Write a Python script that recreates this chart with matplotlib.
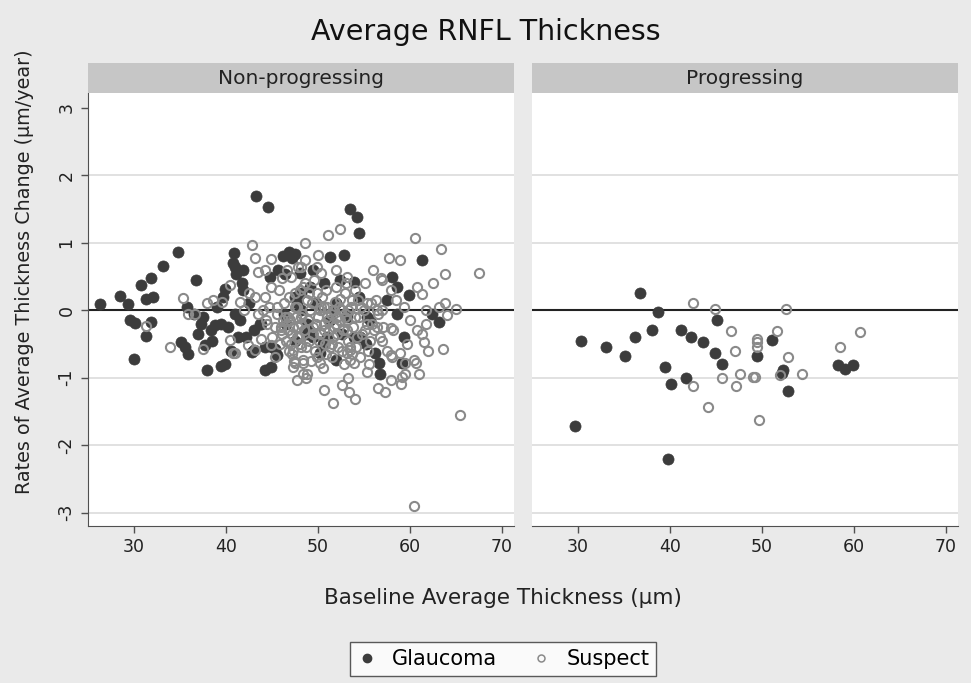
import numpy as np
import matplotlib
matplotlib.use("Agg")
import matplotlib.pyplot as plt
from matplotlib.lines import Line2D

plt.rcParams['font.family'] = ['DejaVu Sans']
plt.rcParams['axes.unicode_minus'] = False

# panel names, ticks
panels = ["Non-progressing", "Progressing"]
xticks = [30, 40, 50, 60, 70]
yticks = [-3, -2, -1, 0, 1, 2, 3]

# Non-progressing, glaucoma (baseline thickness, rate)
glaucoma_np = np.array([
    (43.3, 1.69), (44.6, 1.53), (26.3, 0.09), (28.5, 0.21), (29.4, 0.09), (29.6, -0.15),
    (30.1, -0.19), (31.3, 0.17), (32.1, 0.20), (30.8, 0.37), (31.8, 0.48), (33.2, 0.66),
    (34.75, 0.86), (31.8, -0.18), (31.3, -0.38), (30.0, -0.73), (36.7, 0.44), (35.1, -0.47),
    (35.5, -0.54), (35.9, -0.65), (35.8, 0.05), (37.0, -0.35), (37.9, -0.88), (39.5, -0.83),
    (37.7, -0.52), (38.4, -0.30), (37.5, -0.10), (39.7, 0.20), (39.9, 0.32), (40.9, 0.85),
    (41.0, 0.64), (41.1, 0.54), (41.7, 0.40), (41.9, 0.30), (39.5, -0.20), (38.8, -0.22),
    (41.0, -0.05), (41.3, -0.40), (42.2, -0.40), (42.8, -0.62), (43.85, -0.20), (44.2, -0.89),
    (44.9, -0.84), (45.3, -0.57), (46.8, 0.86), (47.5, 0.84), (46.4, 0.54), (44.8, 0.49),
    (47.5, 0.20), (47.2, 0.78), (53.5, 1.50), (54.2, 1.38), (54.5, 1.14), (51.3, 0.79),
    (52.8, 0.82), (52.4, 0.44), (53.9, 0.42), (52.0, -0.74), (50.2, -0.64), (46.25, -0.05),
    (47.7, 0.10), (48.8, -0.20), (49.5, -0.40), (45.0, -0.54), (45.5, -0.67), (43.0, -0.59),
    (43.7, -0.20), (48.1, 0.25), (48.8, -0.35), (51.0, -0.40), (51.7, 0.0), (53.1, -0.10),
    (61.3, 0.74), (58.0, 0.49), (58.6, 0.35), (59.85, 0.22), (57.5, 0.15), (58.6, -0.05),
    (62.4, -0.05), (63.2, -0.17), (59.3, -0.40), (56.2, -0.64), (56.6, -0.79), (56.7, -0.94),
    (59.1, -0.78), (54.6, -0.40), (55.3, -0.10), (49.15, 0.35), (40.2, -0.25), (39.9, -0.80),
    (46.5, -0.20), (47.5, -0.45), (48.2, 0.00), (49.0, -0.30), (49.8, 0.10), (50.5, -0.50),
    (51.3, -0.15), (52.0, 0.10), (52.6, -0.35), (53.2, -0.05), (53.9, -0.40), (54.4, 0.20),
    (55.2, -0.50), (55.7, -0.15), (45.6, 0.60), (46.2, 0.80), (48.0, 0.55), (49.5, 0.60),
    (50.6, 0.40), (44.2, -0.55), (43.0, -0.30), (42.5, 0.10), (41.5, -0.15), (40.5, -0.60),
    (39.0, 0.05), (38.5, -0.45), (37.3, -0.20), (36.5, -0.05), (41.8, 0.60), (40.8, 0.70),
])

# Non-progressing, suspect
suspect_np = np.array([
    (42.8, 0.96), (43.1, 0.77), (44.9, 0.76), (43.5, 0.57), (44.2, 0.59), (48.6, 1.00),
    (35.3, 0.18), (35.9, -0.05), (36.6, -0.06), (37.9, 0.10), (38.6, 0.15), (31.3, -0.23),
    (33.9, -0.55), (37.5, -0.58), (40.4, 0.37), (41.0, -0.63), (40.4, -0.44), (42.0, 0.0),
    (43.1, 0.20), (44.2, 0.20), (44.9, 0.35), (42.4, -0.52), (43.85, -0.42), (43.1, -0.59),
    (44.9, -0.52), (45.3, -0.69), (47.5, -0.79), (48.4, -0.94), (46.0, -0.25), (46.75, -0.10),
    (47.5, 0.05), (48.2, -0.10), (47.1, 0.49), (47.85, 0.64), (48.6, 0.74), (51.1, 1.11),
    (52.4, 1.21), (50.05, 0.82), (51.9, 0.59), (53.1, 0.49), (49.9, 0.64), (48.1, 0.64),
    (46.6, 0.59), (46.1, 0.47), (48.4, 0.35), (49.9, 0.25), (52.4, 0.17), (47.3, -0.25),
    (48.1, -0.54), (47.3, -0.59), (48.4, -0.79), (48.8, -0.94), (50.2, -0.79), (53.1, -0.64),
    (53.9, -0.79), (53.3, -1.01), (40.8, -0.64), (46.1, -0.35), (46.4, -0.10), (51.0, -0.10),
    (51.7, -0.25), (52.4, -0.15), (50.2, 0.0), (44.4, -0.15), (45.5, 0.05), (60.5, 1.07),
    (63.4, 0.90), (63.8, 0.53), (57.7, 0.77), (58.9, 0.75), (56.0, 0.59), (56.8, 0.47),
    (55.1, 0.40), (61.3, 0.24), (63.1, 0.05), (63.8, 0.10), (61.7, -0.20), (61.5, -0.47),
    (63.6, -0.57), (60.4, -0.74), (57.9, -0.67), (59.5, -0.79), (55.3, -0.91), (53.5, -0.74),
    (53.5, -0.59), (51.3, -0.54), (57.9, -0.27), (60.75, -0.30), (56.4, -0.25), (55.3, 0.10),
    (56.4, 0.0), (53.3, 0.0), (52.05, -0.10), (50.6, 0.05), (48.8, 0.15), (47.7, 0.05),
    (47.7, -0.40), (48.4, -0.74), (47.3, -0.84), (67.5, 0.55), (65.0, 0.01), (64.0, -0.07),
    (60.6, -0.79), (59.5, -0.94), (57.9, -1.04), (57.3, -1.21), (59.1, -0.99), (58.9, -0.64),
    (58.0, -0.69), (65.4, -1.56), (56.9, 0.44), (57.9, 0.30), (59.3, 0.05), (61.7, 0.0),
    (57.1, -0.25), (61.3, -0.35), (60.4, -2.91), (50.6, -1.19), (51.65, -1.38), (53.4, -1.22),
    (54.0, -1.31), (52.6, -1.11), (48.7, -1.01), (47.7, -1.04), (39.6, 0.12), (41.5, 0.12),
    (42.5, 0.25), (46.0, -0.30), (46.5, -0.45), (47.0, -0.15), (47.2, -0.35), (47.8, -0.25),
    (48.0, -0.50), (48.3, -0.05), (48.5, -0.30), (48.9, -0.15), (49.0, -0.45), (49.3, 0.10),
    (49.5, -0.25), (49.7, -0.60), (50.0, -0.10), (50.2, -0.35), (50.4, 0.20), (50.6, -0.20),
    (50.8, -0.50), (51.0, 0.05), (51.2, -0.30), (51.4, -0.05), (51.6, -0.40), (51.8, 0.12),
    (52.0, -0.20), (52.2, -0.55), (52.5, 0.00), (52.7, -0.30), (52.9, 0.25), (53.1, -0.15),
    (53.3, -0.45), (53.6, 0.05), (53.8, -0.25), (54.1, -0.55), (54.3, 0.15), (54.5, -0.10),
    (54.8, -0.35), (55.0, 0.00), (55.3, -0.20), (55.6, -0.45), (55.8, 0.10), (56.1, -0.30),
    (56.5, -0.05), (45.5, -0.05), (45.8, 0.30), (46.3, 0.10), (47.5, 0.25), (48.6, 0.40),
    (49.6, 0.45), (50.3, 0.55), (44.5, -0.20), (44.0, 0.00), (43.5, -0.05), (45.0, -0.40),
    (46.8, -0.60), (47.4, -0.75), (49.2, -0.75), (50.5, -0.85), (51.5, -0.70), (52.8, -0.80),
    (54.6, -0.70), (55.5, -0.80), (57.0, -0.45), (56.9, 0.00), (57.5, -0.60), (58.2, -0.30),
    (58.5, 0.15), (59.7, -0.50), (60.0, -0.15), (60.8, 0.35), (62.0, -0.60), (62.5, 0.40),
    (61.0, -0.95), (59.0, -1.10), (56.5, -1.15),
    (46.2, -0.15), (46.7, -0.30), (47.1, -0.50), (47.6, -0.10), (47.9, -0.40), (48.2, -0.20),
    (48.7, -0.55), (49.1, 0.00), (49.4, -0.35), (49.8, -0.20), (50.1, -0.45), (50.3, 0.05),
    (50.7, -0.30), (50.9, -0.65), (51.1, -0.15), (51.5, -0.50), (51.7, 0.00), (52.1, -0.35),
    (52.3, 0.05), (52.6, -0.60), (52.9, -0.10), (53.2, -0.30), (53.5, -0.55), (53.7, 0.15),
    (54.0, -0.10), (54.2, -0.40), (54.7, 0.05), (55.1, -0.30), (55.4, -0.60), (55.9, -0.20),
    (56.3, 0.15), (56.7, -0.40), (46.9, 0.20), (48.0, 0.30), (49.0, 0.25), (50.9, 0.30),
    (51.9, 0.35), (53.0, 0.40), (54.0, 0.30), (45.3, -0.25), (44.7, 0.05), (45.9, -0.50),
    (47.2, -0.65), (49.9, -0.70), (53.7, -0.65),
])

# Progressing, glaucoma
glaucoma_p = np.array([
    (36.75, 0.26), (38.7, -0.02), (30.3, -0.46), (33.0, -0.54), (35.1, -0.68), (36.2, -0.40),
    (38.0, -0.29), (41.2, -0.30), (42.25, -0.40), (43.6, -0.47), (45.1, -0.14), (44.9, -0.64),
    (45.7, -0.80), (39.5, -0.84), (41.7, -1.00), (40.15, -1.09), (29.7, -1.72), (39.75, -2.21),
    (51.1, -0.44), (49.5, -0.68), (52.3, -0.88), (52.15, -0.93), (52.8, -1.20), (58.25, -0.82),
    (59.05, -0.87), (59.9, -0.82),
])

# Progressing, suspect
suspect_p = np.array([
    (42.55, 0.11), (44.85, 0.02), (46.6, -0.31), (47.1, -0.61), (45.7, -1.01), (47.6, -0.94),
    (47.2, -1.12), (42.55, -1.12), (44.1, -1.44), (49.0, -0.99), (52.6, 0.01), (51.65, -0.31),
    (49.5, -0.42), (49.5, -0.47), (49.4, -0.55), (52.85, -0.69), (49.2, -0.99), (52.0, -0.96),
    (54.3, -0.94), (49.7, -1.63), (58.5, -0.55), (60.6, -0.33),
])

bg = '#eaeaea'
dark = '#3c3c3c'
ring = '#8a8a8a'

W, H = 971, 683
fig = plt.figure(figsize=(W / 100, H / 100), dpi=100, facecolor=bg)

def fx(px):
    return px / W

def fy(py):
    return 1 - py / H

left_px = [88, 532]
pw = 426
top, bot = 93, 526

axes = []
for i, name in enumerate(panels):
    ax = fig.add_axes([fx(left_px[i]), fy(bot), pw / W, (bot - top) / H], facecolor='white')
    ax.set_xlim(25, 71.3)
    ax.set_ylim(-3.2, 3.22)
    for g in [-3, -2, -1, 1, 2]:
        ax.axhline(g, color='#dcdcdc', lw=1.2, zorder=0)
    ax.axhline(0, color='#222222', lw=1.5, zorder=1)
    for s in ['top', 'right']:
        ax.spines[s].set_visible(False)
    ax.spines['bottom'].set_color('#505050')
    ax.spines['left'].set_color('#505050')
    ax.set_xticks(xticks)
    ax.set_xticklabels([str(t) for t in xticks], fontsize=12.5, color='#222222')
    ax.tick_params(axis='x', length=5, width=1, color='#505050', pad=4)
    if i == 0:
        ax.set_yticks(yticks)
        ax.set_yticklabels([str(t) for t in yticks], fontsize=12.5, color='#222222',
                           rotation=90, va='center')
        ax.tick_params(axis='y', length=5, width=1, color='#505050', pad=4)
    else:
        ax.spines['left'].set_visible(False)
        ax.set_yticks([])
    # strip
    sax = fig.add_axes([fx(left_px[i]), fy(top), pw / W, 30 / H], facecolor='#c6c6c6')
    sax.set_xticks([])
    sax.set_yticks([])
    for s in sax.spines.values():
        s.set_visible(False)
    sax.text(0.5, 0.5, name, ha='center', va='center', fontsize=14.5, color='#222222',
             transform=sax.transAxes)
    axes.append(ax)

data = [(glaucoma_np, suspect_np), (glaucoma_p, suspect_p)]
for ax, (g, s) in zip(axes, data):
    ax.plot(g[:, 0], g[:, 1], 'o', ms=8, mfc=dark, mec=dark, mew=0.5, ls='none', zorder=2)
    ax.plot(s[:, 0], s[:, 1], 'o', ms=6.6, mfc='none', mec=ring, mew=1.5, ls='none', zorder=3)

fig.text(0.5, fy(32), "Average RNFL Thickness", ha='center', va='center', fontsize=20.5,
         color='#111111')
fig.text(fx(25), fy(272), "Rates of Average Thickness Change (\u00b5m/year)", rotation=90,
         ha='center', va='center', fontsize=13.8, color='#222222')
fig.text(fx(503), fy(598), "Baseline Average Thickness (\u00b5m)", ha='center', va='center',
         fontsize=15.5, color='#222222')

handles = [
    Line2D([], [], marker='o', ls='none', ms=6, mfc=dark, mec=dark, label='Glaucoma'),
    Line2D([], [], marker='o', ls='none', ms=5, mfc='none', mec=ring, mew=1.1, label='Suspect'),
]
leg = fig.legend(handles=handles, loc='center', bbox_to_anchor=(fx(503), fy(659)), ncol=2,
                 fontsize=15, frameon=True, fancybox=False, edgecolor='#333333',
                 handletextpad=0.7, columnspacing=1.6, borderpad=0.35, handlelength=1.0)
leg.get_frame().set_linewidth(1.0)
leg.get_frame().set_facecolor('white')

fig.savefig("out.png", dpi=100, facecolor=bg)
